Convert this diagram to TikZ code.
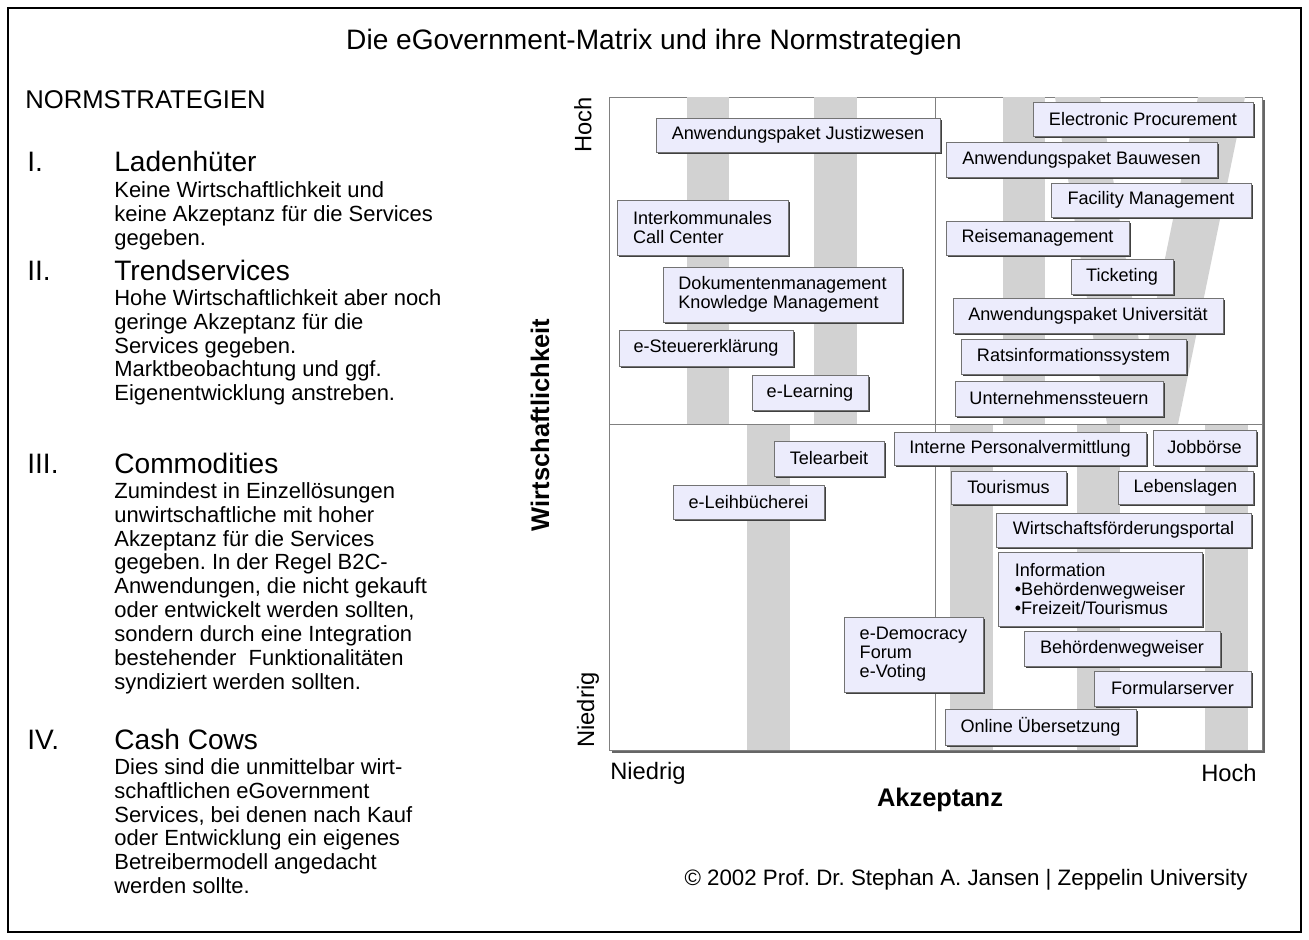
\documentclass[tikz,border=0pt]{standalone}
\usepackage{fontspec}
\setmainfont{Liberation Sans}
\usetikzlibrary{shadows}

\definecolor{svcfill}{RGB}{236,236,252}
\definecolor{bargray}{RGB}{210,210,210}

\tikzset{
  svcbox/.style={draw=black!55, fill=svcfill, inner sep=0pt, align=left,
    font=\fontsize{10.3}{10.8}\selectfont,
    drop shadow={shadow xshift=1.3pt, shadow yshift=-1.3pt, fill=black!75, opacity=1}},
  bar/.style={fill=bargray, draw=none},
  quadline/.style={draw=black!50, line width=0.5pt},
  numeral/.style={anchor=base west, inner sep=0pt, font=\fontsize{16}{18}\selectfont},
  strathead/.style={anchor=base west, inner sep=0pt, font=\fontsize{16}{18}\selectfont},
  stratdesc/.style={anchor=north west, align=left, inner sep=0pt,
    font=\fontsize{12.5}{13.6}\selectfont},
  axislabel/.style={inner sep=0pt, font=\fontsize{13.5}{15}\selectfont},
  axistitle/.style={inner sep=0pt, font=\bfseries\fontsize{14.5}{16}\selectfont}
}

% box from (x1,y1) to (x2,y2) in pixel units
\newcommand{\svc}[6]{%
  \node[svcbox, minimum width={(#4-#2)*0.02cm}, minimum height={(#5-#3)*0.02cm}]
    (#1) at ({(#2+#4)/2},{(#3+#5)/2}) {#6};}

\begin{document}
\frenchspacing
\begin{tikzpicture}[x=0.02cm, y=-0.02cm]
\useasboundingbox (0,0) rectangle (1309,940);
\draw[line width=1.4pt] (8,8) rectangle (1301,932);

% title
\node[font=\fontsize{16}{18}\selectfont] (title) at (654,42) {Die eGovernment-Matrix und ihre Normstrategien};

% left column
\node[anchor=west, inner sep=0pt, font=\fontsize{14.6}{16}\selectfont] (norm) at (25,100) {NORMSTRATEGIEN};

\node[numeral] (n1) at (27,171) {I.};
\node[strathead] (h1) at (114,171) {Ladenhüter};
\node[stratdesc] (d1) at (114,181) {Keine Wirtschaftlichkeit und\\keine Akzeptanz für die Services\\gegeben.};

\node[numeral] (n2) at (27,280) {II.};
\node[strathead] (h2) at (114,280) {Trendservices};
\node[stratdesc] (d2) at (114,289) {Hohe Wirtschaftlichkeit aber noch\\geringe Akzeptanz für die\\Services gegeben.\\Marktbeobachtung und ggf.\\Eigenentwicklung anstreben.};

\node[numeral] (n3) at (27,473) {III.};
\node[strathead] (h3) at (114,473) {Commodities};
\node[stratdesc] (d3) at (114,482) {Zumindest in Einzellösungen\\unwirtschaftliche mit hoher\\Akzeptanz für die Services\\gegeben. In der Regel B2C-\\Anwendungen, die nicht gekauft\\oder entwickelt werden sollten,\\sondern durch eine Integration\\bestehender\ \ Funktionalitäten\\syndiziert werden sollten.};

\node[numeral] (n4) at (27,749) {IV.};
\node[strathead] (h4) at (114,749) {Cash Cows};
\node[stratdesc] (d4) at (114,758) {Dies sind die unmittelbar wirt-\\schaftlichen eGovernment\\Services, bei denen nach Kauf\\oder Entwicklung ein eigenes\\Betreibermodell angedacht\\werden sollte.};

% matrix frame with shadow
\fill[black!60] (612,100) rectangle (1265,753);
\draw[fill=white, draw=black!50] (609,97) rectangle (1262,750);

% background numerals
\fill[bar] (687,97) rectangle (729,424);
\fill[bar] (814,97) rectangle (857,424);
\fill[bar] (747,424) rectangle (790,750);
\fill[bar] (1003,97) rectangle (1045,424);
\fill[bar] (1055,97) -- (1100,97) -- (1143,366) -- (1198,97) -- (1245,97) -- (1178,424) -- (1107,424) -- cycle;
\fill[bar] (950,424) rectangle (993,750);
\fill[bar] (1077,424) rectangle (1120,750);
\fill[bar] (1205,424) rectangle (1248,750);

% quadrants
\draw[quadline] (935,97) -- (935,750);
\draw[quadline] (609,424) -- (1262,424);

% axis labels
\node[axislabel, rotate=90, anchor=east] (yhigh) at (583,97) {Hoch};
\node[axislabel, rotate=90, anchor=west] (ylow) at (588,748) {Niedrig};
\node[axistitle, rotate=90] (ytitle) at (540,425) {Wirtschaftlichkeit};
\node[axislabel, anchor=west] (xlow) at (610,773) {Niedrig};
\node[axislabel, anchor=east] (xhigh) at (1257,773) {Hoch};
\node[axistitle] (xtitle) at (940,800) {Akzeptanz};

% quadrant II
\svc{justiz}{656}{118}{940}{152}{Anwendungspaket Justizwesen}
\svc{callc}{617}{200}{788}{255}{Interkommunales\\Call Center}
\svc{dokm}{663}{267}{902}{322}{Dokumentenmanagement\\Knowledge Management}
\svc{steuer}{619}{330}{793}{366}{e-Steuererklärung}
\svc{elearn}{752}{375}{868}{410}{e-Learning}

% quadrant IV
\svc{eproc}{1033}{102}{1253}{136}{Electronic Procurement}
\svc{bau}{946}{142}{1217}{177}{Anwendungspaket Bauwesen}
\svc{facil}{1051}{183}{1251}{217}{Facility Management}
\svc{reise}{946}{221}{1129}{255}{Reisemanagement}
\svc{ticket}{1071}{259}{1173}{294}{Ticketing}
\svc{univ}{953}{298}{1223}{333}{Anwendungspaket Universität}
\svc{rats}{961}{339}{1186}{374}{Ratsinformationssystem}
\svc{usteuer}{955}{381}{1163}{416}{Unternehmenssteuern}

% quadrant I
\svc{tele}{774}{441}{884}{476}{Telearbeit}
\svc{leih}{673}{485}{824}{519}{e-Leihbücherei}

% quadrant III
\svc{personal}{894}{432}{1146}{465}{Interne Personalvermittlung}
\svc{job}{1153}{430}{1256}{465}{Jobbörse}
\svc{tour}{951}{471}{1066}{504}{Tourismus}
\svc{leben}{1118}{471}{1253}{504}{Lebenslagen}
\svc{wirt}{996}{513}{1251}{547}{Wirtschaftsförderungsportal}
\svc{info}{998}{552}{1202}{626}{Information\\•Behördenwegweiser\\•Freizeit/Tourismus}
\svc{edemo}{844}{617}{983}{692}{e-Democracy\\Forum\\e-Voting}
\svc{behoerde}{1024}{631}{1220}{666}{Behördenwegweiser}
\svc{formular}{1094}{671}{1251}{706}{Formularserver}
\svc{online}{945}{709}{1136}{745}{Online Übersetzung}

% footer
\node[inner sep=0pt, font=\fontsize{12.7}{14}\selectfont] (copy) at (966,880) {© 2002 Prof. Dr. Stephan A. Jansen | Zeppelin University};
\end{tikzpicture}
\end{document}
